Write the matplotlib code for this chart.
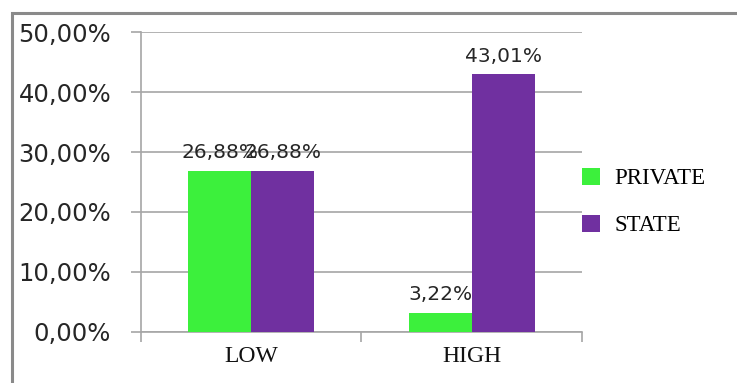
import matplotlib.pyplot as plt
import numpy as np
from matplotlib.patches import Rectangle

# Data
categories = ['LOW', 'HIGH']
private = np.array([26.88, 3.22])
state = np.array([26.88, 43.01])
series_names = ['PRIVATE', 'STATE']
colors = ['#3cf03c', '#7030a0']

fig = plt.figure(figsize=(7.37, 3.83), dpi=100)
ax = fig.add_axes([0.1913, 0.1332, 0.5984, 0.7832])

x = np.arange(len(categories))
w = 0.285
b1 = ax.bar(x - w / 2, private, w, color=colors[0], label=series_names[0], zorder=3)
b2 = ax.bar(x + w / 2, state, w, color=colors[1], label=series_names[1], zorder=3)

for bars in (b1, b2):
    for bar in bars:
        v = bar.get_height()
        ax.annotate(f'{v:.2f}%'.replace('.', ','),
                    (bar.get_x() + bar.get_width() / 2, v),
                    xytext=(0, 6), textcoords='offset points',
                    ha='center', va='bottom', fontsize=14.5, color='#262626',
                    family='DejaVu Sans', zorder=4)

ax.set_xlim(-0.5, 1.5)
ax.set_ylim(0, 50)
ax.set_yticks(np.arange(0, 51, 10))
ax.set_yticklabels([f'{t:.2f}%'.replace('.', ',') for t in np.arange(0, 51, 10)],
                   fontsize=17.5, color='#262626')
ax.yaxis.grid(True, color='#a6a6a6', linewidth=1.2, zorder=0)
ax.tick_params(axis='y', length=7.5, color='#a6a6a6', width=1.2, pad=14)

# category labels, with separator ticks on the boundaries
ax.set_xticks(x)
ax.set_xticklabels(categories, family='Liberation Serif', fontsize=17, color='#111111')
ax.tick_params(axis='x', length=0, pad=10)
ax.set_xticks([-0.5, 0.5, 1.5], minor=True)
ax.tick_params(axis='x', which='minor', length=7.5, color='#a6a6a6', width=1.2)

for s in ['top', 'right']:
    ax.spines[s].set_visible(False)
for s in ['left', 'bottom']:
    ax.spines[s].set_color('#a6a6a6')
    ax.spines[s].set_linewidth(1.2)

ax.legend(loc='center left', bbox_to_anchor=(0.762, 0.4726), bbox_transform=fig.transFigure,
          frameon=False, handlelength=0.78, handleheight=0.78, labelspacing=1.1,
          handletextpad=0.62, prop={'family': 'Liberation Serif', 'size': 16.5})

# outer frame around the chart
fig.patches.append(Rectangle((12 / 737, -0.1), 1.2, (383 - 13) / 383 + 0.1,
                             transform=fig.transFigure, fill=False,
                             edgecolor='#8a8a8a', linewidth=2.2))

fig.savefig('out.png', dpi=100)
